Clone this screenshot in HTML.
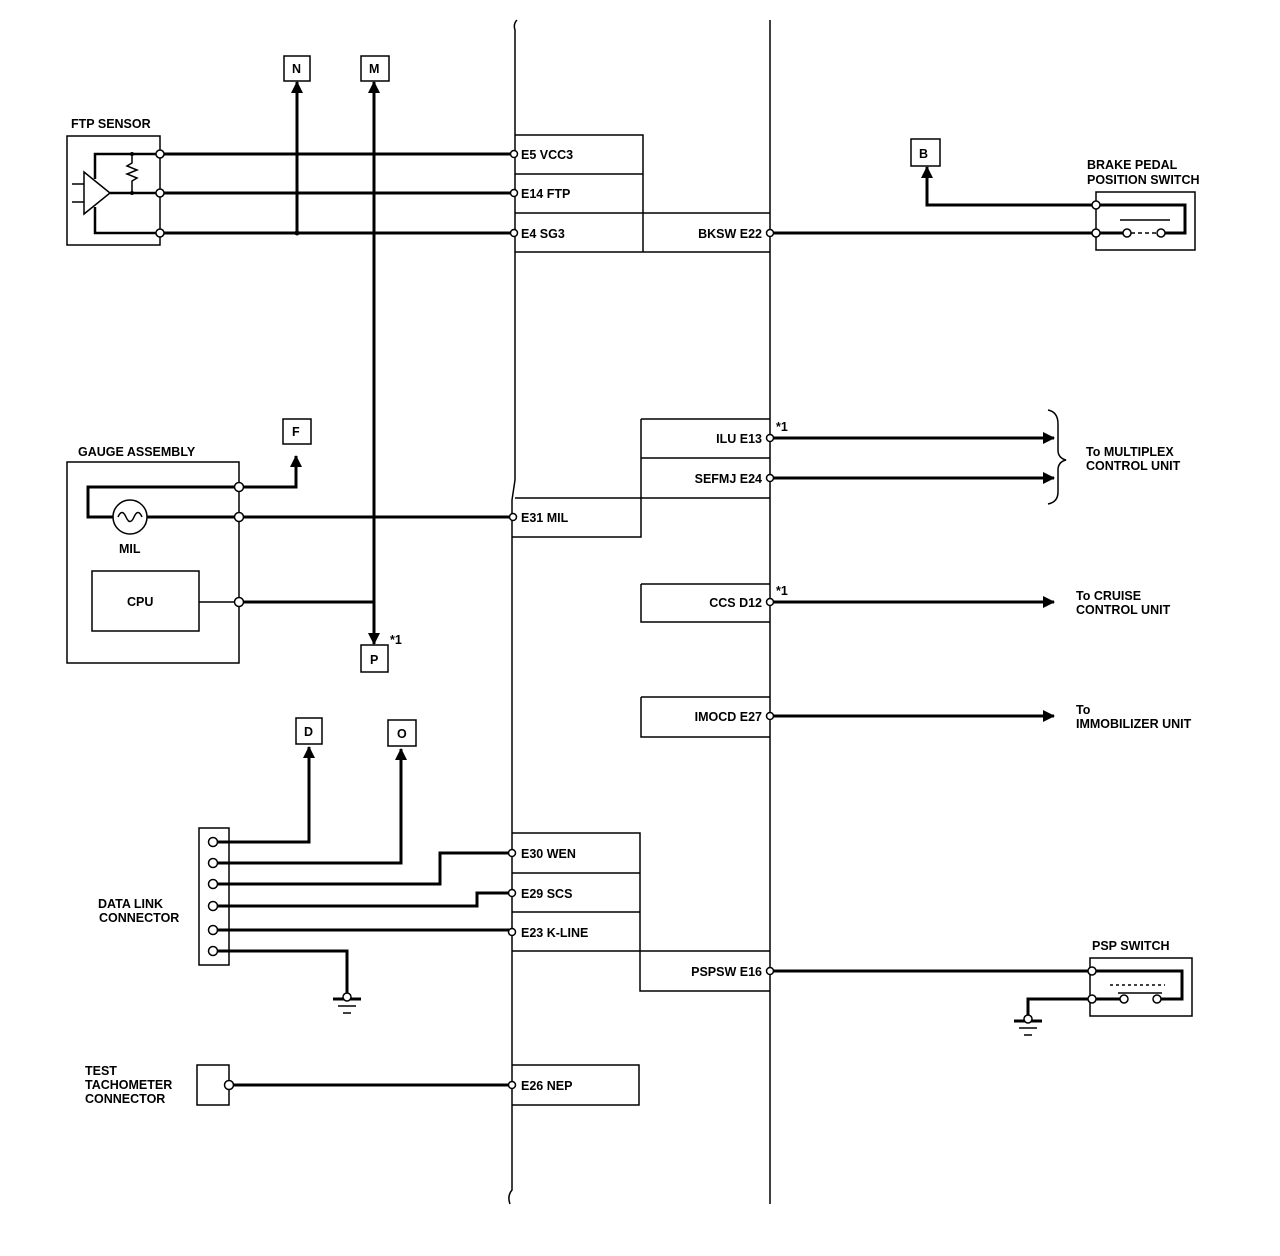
<!DOCTYPE html>
<html><head><meta charset="utf-8"><style>
html,body{margin:0;padding:0;background:#fff}
svg{display:block}
text{font-family:"Liberation Sans",Arial,sans-serif;font-weight:bold;font-size:12.5px;fill:#000}
</style></head><body>
<svg width="1280" height="1256" viewBox="0 0 1280 1256" xmlns="http://www.w3.org/2000/svg">
<defs>
<marker id="a" markerWidth="12" markerHeight="12" refX="11" refY="6" orient="auto" markerUnits="userSpaceOnUse"><path d="M0,0 L12,6 L0,12 z" fill="#000"/></marker>
</defs>
<g fill="none" stroke="#000">
<!-- ECM outline -->
<path d="M517,20 Q513,24 515,30 L515,480 L512,500 L512,1190 Q507,1196 510,1204" stroke-width="1.5"/>
<path d="M770,20 L770,1204" stroke-width="1.5"/>
<!-- connector boxes -->
<g stroke-width="1.5">
<path d="M515,135 H643 V252 H515 M515,174 H643 M515,213 H770 M643,252 H770"/>
<path d="M641,419 H770 M641,458 H770 M515,498 H770 M641,419 V537 H512"/>
<path d="M641,584 H770 M641,584 V622 H770"/>
<path d="M641,697 H770 M641,697 V737 H770"/>
<path d="M512,833 H640 V991 H770 M512,873 H640 M512,912 H640 M512,951 H770"/>
<path d="M512,1065 H639 V1105 H512"/>
</g>
<!-- FTP sensor -->
<rect x="67" y="136" width="93" height="109" stroke-width="1.5"/>
<path d="M84,172 L110,193 L84,214 Z" stroke-width="1.5"/>
<path d="M72,184 H84 M72,202 H84" stroke-width="1.5"/>
<path d="M95,179 V154 H160 M110,193 H160 M95,207 V233 H160" stroke-width="2.5"/>
<path d="M132,154 V163 L127,166 L137,170 L127,174 L137,178 L132,181 V193" stroke-width="1.5"/>
<path d="M160,154 H514 M160,193 H514 M160,233 H514" stroke-width="3"/>
<!-- N, M -->
<rect x="284" y="56" width="26" height="25" stroke-width="1.5"/>
<rect x="361" y="56" width="28" height="25" stroke-width="1.5"/>
<path d="M297,233 V82" stroke-width="3" marker-end="url(#a)"/>
<path d="M374,632 V82" stroke-width="3" marker-end="url(#a)"/>
<path d="M374,600 V644" stroke-width="3" marker-end="url(#a)"/>
<rect x="361" y="645" width="27" height="27" stroke-width="1.5"/>
<!-- gauge assembly -->
<rect x="67" y="462" width="172" height="201" stroke-width="1.5"/>
<path d="M239,487 H88 V517 H239" stroke-width="3"/>
<circle cx="130" cy="517" r="17" fill="#fff" stroke-width="1.5"/>
<path d="M118,517 Q122,508 126,517 Q130,526 134,517 Q138,508 142,517" stroke-width="1.5"/>
<rect x="92" y="571" width="107" height="60" stroke-width="1.5"/>
<path d="M199,602 H239" stroke-width="1.5"/>
<path d="M239,602 H374" stroke-width="3"/>
<path d="M239,517 H514" stroke-width="3"/>
<path d="M239,487 H296 V456" stroke-width="3" marker-end="url(#a)"/>
<rect x="283" y="419" width="28" height="25" stroke-width="1.5"/>
<!-- DLC -->
<rect x="199" y="828" width="30" height="137" stroke-width="1.5"/>
<rect x="296" y="718" width="26" height="26" stroke-width="1.5"/>
<rect x="388" y="720" width="28" height="26" stroke-width="1.5"/>
<g stroke-width="3">
<path d="M213,842 H309 V747" marker-end="url(#a)"/>
<path d="M213,863 H401 V749" marker-end="url(#a)"/>
<path d="M213,884 H440 V853 H514"/>
<path d="M213,906 H477 V893 H514"/>
<path d="M213,930 H514"/>
<path d="M213,951 H347 V994"/>
</g>
<path d="M333,999 H361" stroke-width="3"/>
<path d="M338,1006 H356 M343,1013 H351" stroke-width="1.5"/>
<!-- tach -->
<rect x="197" y="1065" width="32" height="40" stroke-width="1.5"/>
<path d="M229,1085 H514" stroke-width="3"/>
<!-- right side -->
<path d="M770,233 H1096" stroke-width="3"/>
<rect x="911" y="139" width="29" height="27" stroke-width="1.5"/>
<path d="M1096,205 H927 V167" stroke-width="3" marker-end="url(#a)"/>
<rect x="1096" y="192" width="99" height="58" stroke-width="1.5"/>
<path d="M1096,205 H1185 V233 H1161 M1096,233 H1127" stroke-width="3"/>
<path d="M1120,220 H1170" stroke-width="1.5"/>
<path d="M1131,233 H1157" stroke-width="1.5" stroke-dasharray="4,3"/>
<path d="M770,438 H1054" stroke-width="3" marker-end="url(#a)"/>
<path d="M770,478 H1054" stroke-width="3" marker-end="url(#a)"/>
<path d="M770,602 H1054" stroke-width="3" marker-end="url(#a)"/>
<path d="M770,716 H1054" stroke-width="3" marker-end="url(#a)"/>
<path d="M1048,410 Q1058,412 1058,424 V450 Q1058,458 1066,460 Q1058,462 1058,470 V492 Q1058,502 1048,504" stroke-width="1.5"/>
<!-- PSP -->
<path d="M770,971 H1092" stroke-width="3"/>
<rect x="1090" y="958" width="102" height="58" stroke-width="1.5"/>
<path d="M1092,971 H1182 V999 H1157 M1092,999 H1124 M1092,999 H1028 V1016" stroke-width="3"/>
<path d="M1110,985 H1165" stroke-width="1.5" stroke-dasharray="3,3"/>
<path d="M1118,993 H1162" stroke-width="1.5"/>
<path d="M1014,1021 H1042" stroke-width="3"/>
<path d="M1019,1028 H1037 M1024,1035 H1032" stroke-width="1.5"/>
</g>
<!-- terminals -->
<g fill="#fff" stroke="#000" stroke-width="1.5">
<circle cx="160" cy="154" r="4"/><circle cx="160" cy="193" r="4"/><circle cx="160" cy="233" r="4"/>
<circle cx="514" cy="154" r="3.5"/><circle cx="514" cy="193" r="3.5"/><circle cx="514" cy="233" r="3.5"/>
<circle cx="513" cy="517" r="3.5"/><circle cx="512" cy="853" r="3.5"/><circle cx="512" cy="893" r="3.5"/><circle cx="512" cy="932" r="3.5"/><circle cx="512" cy="1085" r="3.5"/>
<circle cx="770" cy="233" r="3.5"/><circle cx="770" cy="438" r="3.5"/><circle cx="770" cy="478" r="3.5"/><circle cx="770" cy="602" r="3.5"/><circle cx="770" cy="716" r="3.5"/><circle cx="770" cy="971" r="3.5"/>
<circle cx="239" cy="487" r="4.5"/><circle cx="239" cy="517" r="4.5"/><circle cx="239" cy="602" r="4.5"/>
<circle cx="213" cy="842" r="4.5"/><circle cx="213" cy="863" r="4.5"/><circle cx="213" cy="884" r="4.5"/><circle cx="213" cy="906" r="4.5"/><circle cx="213" cy="930" r="4.5"/><circle cx="213" cy="951" r="4.5"/>
<circle cx="229" cy="1085" r="4.5"/>
<circle cx="1096" cy="205" r="4"/><circle cx="1096" cy="233" r="4"/><circle cx="1127" cy="233" r="4"/><circle cx="1161" cy="233" r="4"/>
<circle cx="1092" cy="971" r="4"/><circle cx="1092" cy="999" r="4"/><circle cx="1124" cy="999" r="4"/><circle cx="1157" cy="999" r="4"/>
<circle cx="347" cy="997" r="4"/><circle cx="1028" cy="1019" r="4"/>
</g>
<g fill="#000"><circle cx="297" cy="233" r="2.5"/><circle cx="132" cy="154" r="2"/><circle cx="132" cy="193" r="2"/></g>
<!-- labels -->
<text x="71" y="128">FTP SENSOR</text>
<text x="78" y="456">GAUGE ASSEMBLY</text>
<text x="119" y="553">MIL</text>
<text x="127" y="606">CPU</text>
<text x="98" y="908">DATA LINK</text>
<text x="99" y="922">CONNECTOR</text>
<text x="85" y="1075">TEST</text>
<text x="85" y="1089">TACHOMETER</text>
<text x="85" y="1103">CONNECTOR</text>
<text x="292" y="73">N</text>
<text x="369" y="73">M</text>
<text x="292" y="436">F</text>
<text x="370" y="664">P</text>
<text x="390" y="644" font-size="11">*1</text>
<text x="304" y="736">D</text>
<text x="397" y="738">O</text>
<text x="919" y="158">B</text>
<text x="521" y="159">E5 VCC3</text>
<text x="521" y="198">E14 FTP</text>
<text x="521" y="238">E4 SG3</text>
<text x="762" y="238" text-anchor="end">BKSW E22</text>
<text x="762" y="443" text-anchor="end">ILU E13</text>
<text x="762" y="483" text-anchor="end">SEFMJ E24</text>
<text x="521" y="522">E31 MIL</text>
<text x="762" y="607" text-anchor="end">CCS D12</text>
<text x="762" y="721" text-anchor="end">IMOCD E27</text>
<text x="521" y="858">E30 WEN</text>
<text x="521" y="898">E29 SCS</text>
<text x="521" y="937">E23 K-LINE</text>
<text x="762" y="976" text-anchor="end">PSPSW E16</text>
<text x="521" y="1090">E26 NEP</text>
<text x="776" y="431" font-size="11">*1</text>
<text x="776" y="595" font-size="11">*1</text>
<text x="1087" y="169">BRAKE PEDAL</text>
<text x="1087" y="184">POSITION SWITCH</text>
<text x="1086" y="456">To MULTIPLEX</text>
<text x="1086" y="470">CONTROL UNIT</text>
<text x="1076" y="600">To CRUISE</text>
<text x="1076" y="614">CONTROL UNIT</text>
<text x="1076" y="714">To</text>
<text x="1076" y="728">IMMOBILIZER UNIT</text>
<text x="1092" y="950">PSP SWITCH</text>
</svg>
</body></html>
